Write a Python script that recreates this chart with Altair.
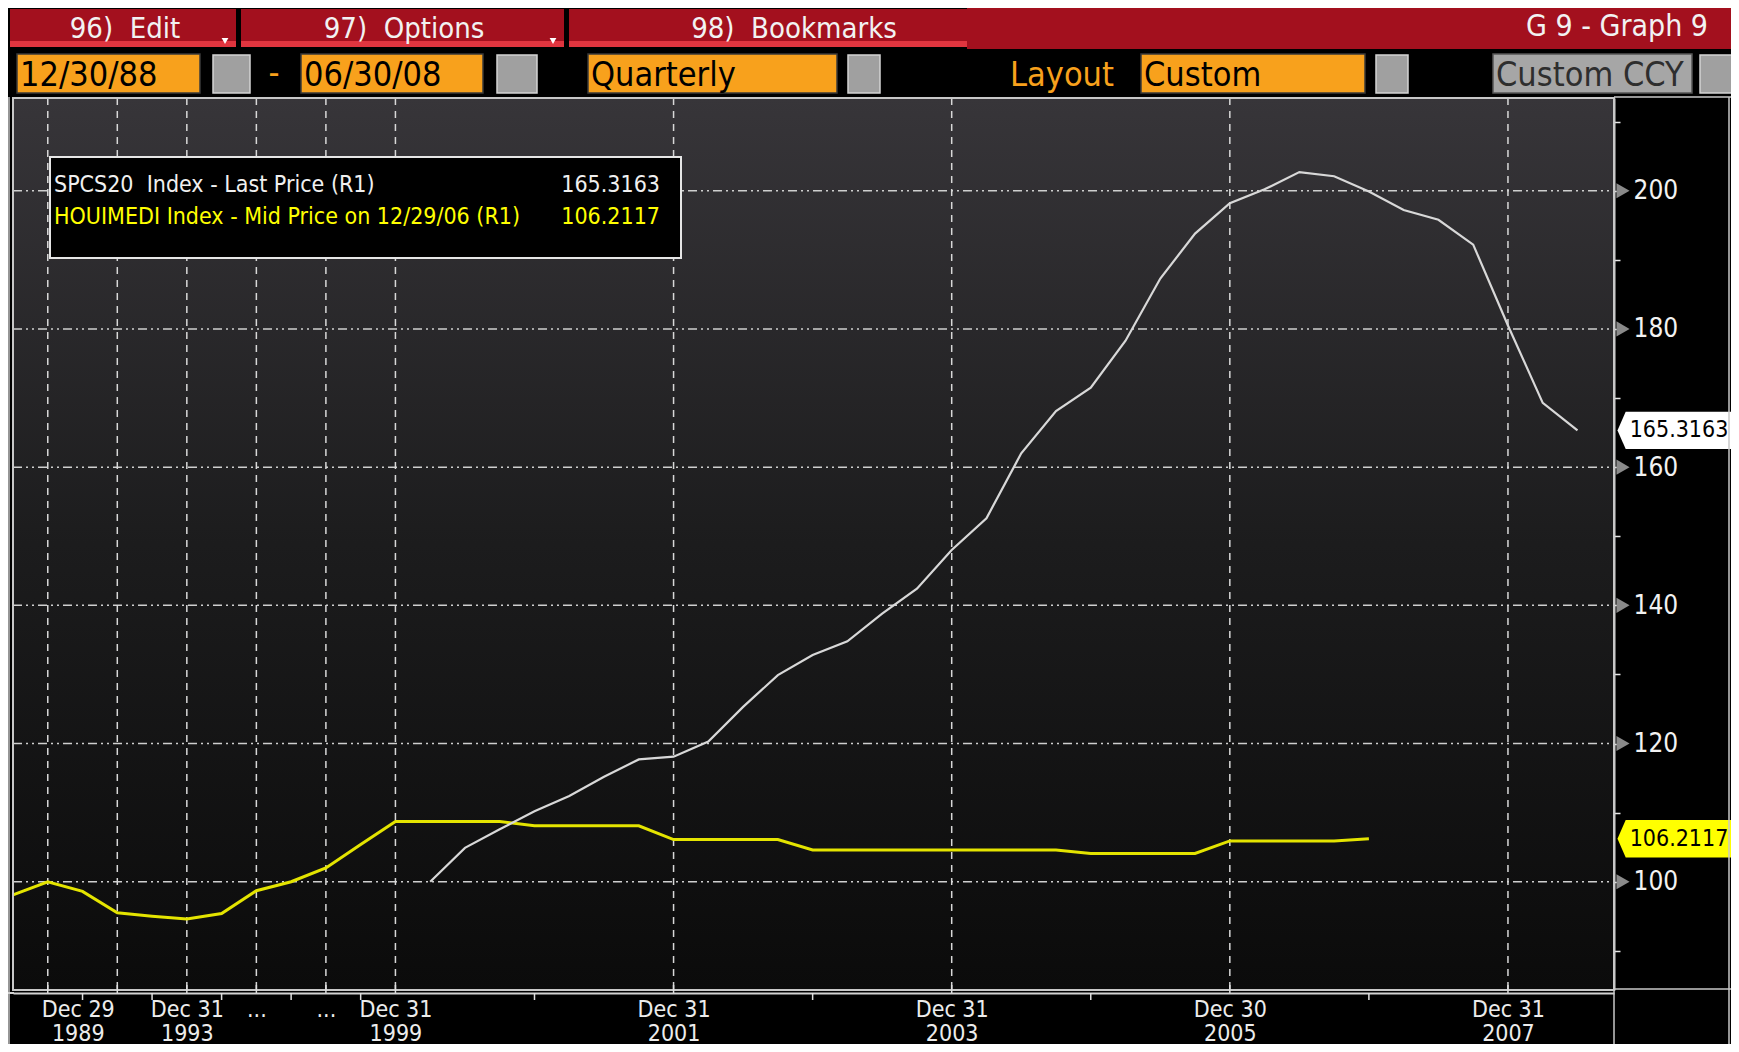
import altair as alt
import pandas as pd

# ---------------- data ----------------
annual_periods = ["1988", "1989", "1990", "1991", "1992", "1993",
                  "1994", "1995", "1996", "1997", "1998", "1999"]
quarter_periods = [f"{y}Q{q}" for y in range(2000, 2009) for q in (1, 2, 3, 4)][:34]
periods = annual_periods + quarter_periods

# HOUIMEDI Index (yellow) - annual 1988-1999, then quarterly to 2006Q4
houimedi_values = [98.1, 100.0, 98.6, 95.5, 95.0, 94.6, 95.4, 98.7, 100.0, 102.0, 105.4, 108.7,
                   108.7, 108.7, 108.7, 108.1, 108.1, 108.1, 108.1,
                   106.1, 106.1, 106.1, 106.1,
                   104.6, 104.6, 104.6, 104.6, 104.6, 104.6, 104.6, 104.6,
                   104.1, 104.1, 104.1, 104.1,
                   105.9, 105.9, 105.9, 105.9, 106.2117]

# SPCS20 Index (white) - quarterly 2000Q1 .. 2008Q2
spcs20_values = [100.0, 104.9, 107.6, 110.2, 112.4, 115.2, 117.7, 118.1,
                 120.3, 125.3, 129.9, 132.8, 134.8, 138.8, 142.4, 148.0,
                 152.6, 162.0, 168.1, 171.5, 178.3, 187.3, 193.8, 198.2,
                 200.2, 202.7, 202.1, 199.9, 197.2, 195.8, 192.2, 180.5,
                 169.3, 165.3163]

legend_names = ["SPCS20\u00a0\u00a0Index - Last Price (R1)",
                "HOUIMEDI Index - Mid Price on 12/29/06 (R1)"]

x_label_pos = [1, 5, 7, 9, 11, 19, 27, 35, 43]
x_label_top = ["Dec 29", "Dec 31", "...", "...", "Dec 31", "Dec 31", "Dec 31", "Dec 30", "Dec 31"]
x_label_bottom = ["1989", "1993", "", "", "1999", "2001", "2003", "2005", "2007"]
x_grid_pos = [1, 3, 5, 7, 9, 11, 19, 27, 35, 43]
x_minor_pos = [2, 4, 6, 8, 10, 15, 23, 31, 39]
y_major = [100, 120, 140, 160, 180, 200]
y_ticks = [90, 100, 110, 120, 130, 140, 150, 160, 170, 180, 190, 200, 210]

# ---------------- layout ----------------
OX, OY = 13, 98          # plot origin in page pixels
W, H = 1601, 892         # plot area
NARROW = "'DejaVu Sans Condensed', 'Liberation Sans Narrow', sans-serif"
ROWF = "'DejaVu Sans Condensed', 'Liberation Sans Narrow', sans-serif"
TABF = "'DejaVu Sans Condensed', 'DejaVu Sans', sans-serif"
ORANGE = "#f8a11c"
RED = "#a3101e"
RED_LIGHT = "#e0353f"
NB = "\u00a0"

hou = pd.DataFrame({"period": periods[:len(houimedi_values)],
                    "idx": list(range(len(houimedi_values))),
                    "value": houimedi_values})
s0 = len(annual_periods)
spc = pd.DataFrame({"period": periods[s0:s0 + len(spcs20_values)],
                    "idx": list(range(s0, s0 + len(spcs20_values))),
                    "value": spcs20_values})

xs = alt.Scale(domain=[0, 46.05], nice=False, zero=False)
ys = alt.Scale(domain=[84.33, 213.42], nice=False, zero=False)

parts = [f"datum.value == {p} ? ['{a}', '{b}']" for p, a, b in zip(x_label_pos, x_label_top, x_label_bottom)]
x_label_expr = " : ".join(parts) + " : ''"

x_axis = alt.Axis(values=x_label_pos, labelExpr=x_label_expr, ticks=False, tickSize=0,
                  domainColor="#d2d2d2", domainWidth=2, offset=3, labelPadding=5,
                  labelOffset={"condition": {"test": f"datum.value == {x_label_pos[0]}", "value": 30},
                               "value": 0},
                  labelFont=NARROW, labelFontSize=23, labelColor="#ececec",
                  labelLineHeight=24, labelBaseline="top", labelAlign="center",
                  labelOverlap=False, grid=False, title=None)
y_axis = alt.Axis(orient="right", values=y_ticks,
                  labelExpr="(datum.value % 20 == 0 && datum.value >= 100 && datum.value <= 200) ? datum.value : ''",
                  tickSize=6, tickColor="#e6e6e6", tickWidth=1.5,
                  domainColor="#d2d2d2", domainWidth=2, labelPadding=13,
                  labelFont=NARROW, labelFontSize=26, labelColor="#f2f2f2",
                  labelOverlap=False, grid=False, title=None)


def X(field="idx"):
    return alt.X(f"{field}:Q", scale=xs, axis=x_axis)


def Y(field="value"):
    return alt.Y(f"{field}:Q", scale=ys, axis=y_axis)


one = pd.DataFrame({"k": [0]})


def box(x0, y0, x1, y1, fill, stroke=None, sw=1.5):
    kw = dict(fill=fill)
    if stroke:
        kw.update(stroke=stroke, strokeWidth=sw)
    return alt.Chart(one).mark_rect(**kw).encode(
        x=alt.value(x0 - OX), x2=alt.value(x1 - OX),
        y=alt.value(y0 - OY), y2=alt.value(y1 - OY))


def label(x, y, s, color, size, font, align="left"):
    return alt.Chart(one).mark_text(color=color, fontSize=size, font=font, align=align,
                                    baseline="alphabetic").encode(
        x=alt.value(x - OX), y=alt.value(y - OY), text=alt.value(s))


def hline(x0, x1, y, color="#c8c8c8", sw=1.5):
    return alt.Chart(one).mark_rule(color=color, strokeWidth=sw).encode(
        x=alt.value(x0 - OX), x2=alt.value(x1 - OX), y=alt.value(y - OY))


def vline(x, y0, y1, color="#c8c8c8", sw=1.5):
    return alt.Chart(one).mark_rule(color=color, strokeWidth=sw).encode(
        x=alt.value(x - OX), y=alt.value(y0 - OY), y2=alt.value(y1 - OY))


layers = []

# plot background gradient
grad = alt.LinearGradient(gradient="linear", x1=0, x2=0, y1=0, y2=1,
                          stops=[alt.GradientStop(color="#373539", offset=0),
                                 alt.GradientStop(color="#1c1c1d", offset=0.5),
                                 alt.GradientStop(color="#0b0b0b", offset=1)])
layers.append(alt.Chart(one).mark_rect(fill=grad).encode(
    x=alt.value(0), x2=alt.value(W), y=alt.value(0), y2=alt.value(H)))

# grid
layers.append(alt.Chart(pd.DataFrame({"value": y_major})).mark_rule(
    color="#cfcfcf", strokeWidth=1.5, strokeDash=[9, 4, 2, 4, 2, 4]).encode(
    y=Y(), x=alt.value(0), x2=alt.value(W)))
layers.append(alt.Chart(pd.DataFrame({"idx": x_grid_pos})).mark_rule(
    color="#d8d8d8", strokeWidth=1.5, strokeDash=[7, 6]).encode(
    x=X(), y=alt.value(0), y2=alt.value(H)))

# series
layers.append(alt.Chart(hou).mark_line(color="#e4e400", strokeWidth=3).encode(
    x=X(), y=Y(), order="idx:Q"))
layers.append(alt.Chart(spc).mark_line(color="#d8d8d8", strokeWidth=2.2).encode(
    x=X(), y=Y(), order="idx:Q"))

# plot border
layers.append(alt.Chart(one).mark_rect(fillOpacity=0, stroke="#c8c8c8", strokeWidth=2).encode(
    x=alt.value(0), x2=alt.value(W), y=alt.value(0), y2=alt.value(H)))

# x ticks
layers.append(alt.Chart(pd.DataFrame({"idx": x_minor_pos})).mark_rule(
    color="#e0e0e0", strokeWidth=1.5).encode(
    x=X(), y=alt.value(H + 3), y2=alt.value(H + 10)))
layers.append(alt.Chart(pd.DataFrame({"idx": x_grid_pos})).mark_rule(
    color="#e0e0e0", strokeWidth=1.5).encode(
    x=X(), y=alt.value(H - 5), y2=alt.value(H + 3)))

# right-axis triangles
layers.append(alt.Chart(pd.DataFrame({"value": y_major})).mark_point(
    shape="triangle-right", filled=True, color="#8a8a8a", size=230, opacity=1).encode(
    y=Y(), x=alt.value(W + 9)))

# legend box
layers.append(box(50, 157, 681, 258, "#000000", "#e6e6e6", 2))
legend_rows = [(legend_names[0], spcs20_values[-1], "#f0f0f0", 192),
               (legend_names[1], houimedi_values[-1], "#ffff00", 224)]
for name, val, col, yb in legend_rows:
    layers.append(label(54, yb, name, col, 23, NARROW))
    layers.append(label(660, yb, f"{val:.4f}", col, 23, NARROW, align="right"))

# last value tags on the right axis
TAG = "M -1 0 L -0.86 -0.32 L 1 -0.32 L 1 0.32 L -0.86 0.32 Z"
for val, col in [(spcs20_values[-1], "#ffffff"), (houimedi_values[-1], "#ffff00")]:
    d = pd.DataFrame({"value": [val], "text": [f"{val:.4f}"]})
    layers.append(alt.Chart(d).mark_point(shape=TAG, filled=True, color=col, opacity=1,
                                          size=117 ** 2).encode(
        y=Y(), x=alt.value(1676 - OX)))
    layers.append(alt.Chart(d).mark_text(color="#000000", fontSize=23, font=NARROW,
                                         align="center", baseline="middle").encode(
        y=Y(), x=alt.value(1679 - OX), text="text:N"))

# frame lines around panels
layers.append(vline(9, 97, 1060))
layers.append(vline(1614, 990, 1060))
layers.append(vline(1729, 97, 1060))
layers.append(hline(1614, 1740, 989))
layers.append(hline(1614, 1740, 97))
layers.append(hline(8, 14, 993, "#d2d2d2", 2))

# header: red tab bar
layers.append(box(967, 4, 1745, 49, RED))
for x0, x1 in [(10, 236), (241, 564), (569, 967)]:
    layers.append(box(x0, 9, x1, 47, RED))
    layers.append(box(x0, 41, x1, 47, RED_LIGHT))
layers.append(label(125, 38, f"96){NB}{NB}Edit", "#f2f2f2", 29, TABF, "center"))
layers.append(label(404, 38, f"97){NB}{NB}Options", "#f2f2f2", 29, TABF, "center"))
layers.append(label(794, 38, f"98){NB}{NB}Bookmarks", "#f2f2f2", 29, TABF, "center"))
layers.append(label(1708, 36, "G 9 - Graph 9", "#f2f2f2", 30, TABF, "right"))
for tx in (225, 553):
    layers.append(alt.Chart(one).mark_point(
        shape="triangle-down", filled=True, color="#ffffff", size=45, opacity=1).encode(
        x=alt.value(tx - OX), y=alt.value(41 - OY)))

# header: second row of fields
for x0, x1, txt in [(17, 200, "12/30/88"), (301, 483, "06/30/08"),
                    (588, 837, "Quarterly"), (1141, 1365, "Custom")]:
    layers.append(box(x0, 54, x1, 93, ORANGE, "#3a3a3a", 1.5))
    layers.append(label(x0 + 3, 86, txt, "#000000", 34, ROWF))
for x0, x1 in [(213, 250), (497, 537), (848, 880), (1376, 1408), (1700, 1745)]:
    layers.append(box(x0, 55, x1, 93, "#a0a0a0", "#d4d4d4", 1.5))
layers.append(label(274, 84, "-", ORANGE, 34, ROWF, "center"))
layers.append(label(1114, 86, "Layout", ORANGE, 34, ROWF, "right"))
layers.append(box(1493, 54, 1692, 93, "#a6a6a6", "#555555", 1.5))
layers.append(label(1496, 86, "Custom CCY", "#2e2e2e", 34, ROWF))

chart = alt.layer(*layers).properties(
    width=W, height=H,
    padding={"left": 5, "top": 90, "right": 117, "bottom": 54},
    autosize=alt.AutoSizeParams(type="none"),
    background="#000000",
).configure_view(strokeWidth=0)

chart.save("out.html", embed_options={"renderer": "svg", "actions": False})
